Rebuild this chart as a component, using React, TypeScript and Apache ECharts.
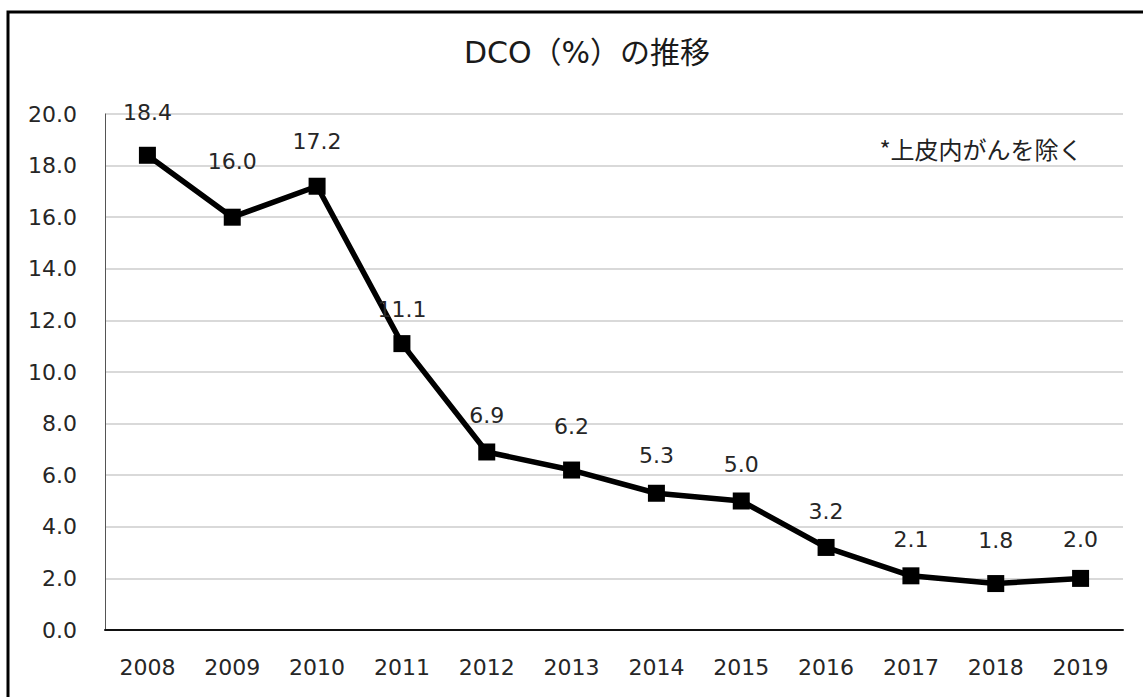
import React, { useEffect, useRef } from "react";
import * as echarts from "echarts";

const years = ["2008", "2009", "2010", "2011", "2012", "2013", "2014", "2015", "2016", "2017", "2018", "2019"];
const dcoValues = [18.4, 16.0, 17.2, 11.1, 6.9, 6.2, 5.3, 5.0, 3.2, 2.1, 1.8, 2.0];
const labelLift = [23, 36, 25, 15, 17, 24, 18, 17, 16, 17, 24, 19];
const titleText = "DCO（%）の推移";
const noteText = "*上皮内がんを除く";

const latinFont = "'DejaVu Sans', 'Noto Sans CJK JP', sans-serif";

export default function App() {
  const ref = useRef<HTMLDivElement>(null);
  useEffect(() => {
    if (!ref.current) return;
    const chart = echarts.init(ref.current, undefined, { renderer: "svg" });
    chart.setOption({
      animation: false,
      backgroundColor: "#ffffff",
      title: {
        text: titleText,
        left: 582,
        top: 32,
        textAlign: "center",
        textStyle: { fontFamily: latinFont, fontSize: 30, fontWeight: "normal", color: "#1a1a1a" },
      },
      graphic: [
        {
          type: "rect",
          shape: { x: 8, y: 12, width: 1160, height: 720 },
          style: { fill: "none", stroke: "#000", lineWidth: 3 },
          silent: true,
        },
        {
          type: "text",
          x: 981,
          y: 148,
          style: {
            text: noteText,
            fontFamily: "'Noto Sans CJK JP', sans-serif",
            fontSize: 24,
            fill: "#222",
            align: "center",
            verticalAlign: "middle",
          },
        },
      ],
      grid: { left: 105, right: 20, top: 114, bottom: 67 },
      xAxis: {
        type: "category",
        data: years,
        boundaryGap: true,
        axisLine: { lineStyle: { color: "#111", width: 2 } },
        axisTick: { show: false },
        axisLabel: { fontFamily: latinFont, fontSize: 22, color: "#262626", margin: 26 },
        splitLine: { show: false },
      },
      yAxis: {
        type: "value",
        min: 0,
        max: 20,
        interval: 2,
        axisLine: { show: true, lineStyle: { color: "#555", width: 1 } },
        axisTick: { show: false },
        axisLabel: {
          fontFamily: latinFont,
          fontSize: 22,
          color: "#262626",
          margin: 28,
          formatter: (v: number) => v.toFixed(1),
        },
        splitLine: { lineStyle: { color: "#d9d9d9", width: 2 } },
      },
      series: [
        {
          type: "line",
          data: dcoValues.map((v, i) => ({ value: v, label: { distance: labelLift[i] } })),
          symbol: "rect",
          symbolSize: 17,
          itemStyle: { color: "#000" },
          lineStyle: { color: "#000", width: 5.5 },
          label: {
            show: true,
            position: "top",
            fontFamily: latinFont,
            fontSize: 22,
            color: "#262626",
            formatter: (p: any) => Number(p.value).toFixed(1),
          },
        },
      ],
    });
    return () => chart.dispose();
  }, []);
  return <div ref={ref} style={{ position: "fixed", left: 0, top: 0, width: 1143, height: 697 }} />;
}
